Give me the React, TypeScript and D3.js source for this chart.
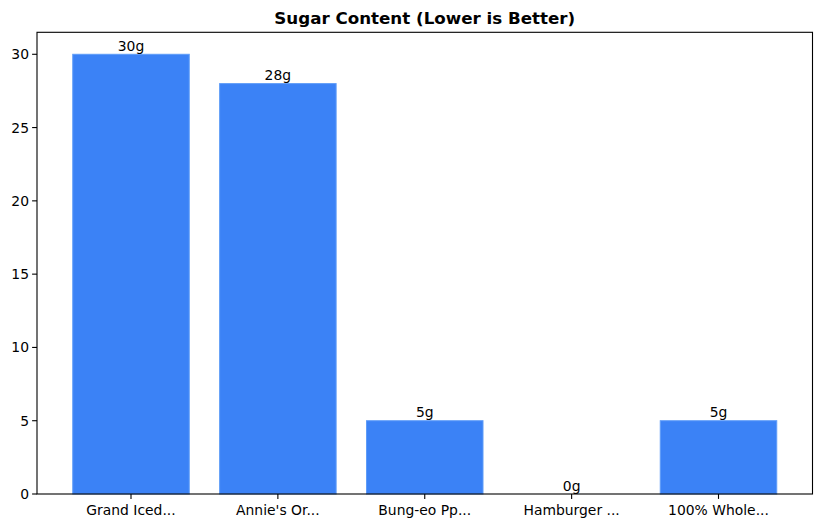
import React from "react";
import * as d3 from "d3";

const categories = ["Grand Iced...", "Annie's Or...", "Bung-eo Pp...", "Hamburger ...", "100% Whole..."];
const sugarValues = [30, 28, 5, 0, 5];
const yTicks = [0, 5, 10, 15, 20, 25, 30];
const title = "Sugar Content (Lower is Better)";

const W = 822, H = 528;
const left = 37, right = 812.5, top = 32.3, bottom = 494;
const FONT = "DejaVu Sans, sans-serif";

export default function App() {
  const x = d3.scaleLinear().domain([-0.64, categories.length - 1 + 0.64]).range([left, right]);
  const y = d3.scaleLinear().domain([0, 31.5]).range([bottom, top]);
  const bw = x(0.8) - x(0);
  return (
    <svg width={W} height={H} style={{ position: "absolute", left: 0, top: 0 }} fontFamily={FONT}>
      <rect width={W} height={H} fill="white" />
      {sugarValues.map((v, i) => (
        <rect key={"b" + i} x={x(i) - bw / 2 + 0.5} y={y(v)} width={bw - 1} height={bottom - y(v)}
          fill="#3b82f6" stroke="#5f9cf8" strokeWidth={1} />
      ))}
      {sugarValues.map((v, i) => (
        <text key={"l" + i} x={x(i)} y={y(v) - 3.5} textAnchor="middle" fontSize={13.9} fill="#000">{v}g</text>
      ))}
      {yTicks.map((t) => (
        <g key={"y" + t}>
          <line x1={left - 4.9} x2={left} y1={y(t)} y2={y(t)} stroke="#000" strokeWidth={1.1} />
          <text x={left - 8} y={y(t)} dy="0.36em" textAnchor="end" fontSize={13.9} fill="#000">{t}</text>
        </g>
      ))}
      {categories.map((c, i) => (
        <g key={"x" + i}>
          <line x1={x(i)} x2={x(i)} y1={bottom} y2={bottom + 4.9} stroke="#000" strokeWidth={1.1} />
          <text x={x(i)} y={bottom + 20.5} textAnchor="middle" fontSize={13.9} fill="#000">{c}</text>
        </g>
      ))}
      <rect x={left} y={top} width={right - left} height={bottom - top} fill="none" stroke="#000" strokeWidth={1.1} />
      <text x={(left + right) / 2} y={24} textAnchor="middle" fontSize={16.7} fontWeight="bold" fill="#000">{title}</text>
    </svg>
  );
}
